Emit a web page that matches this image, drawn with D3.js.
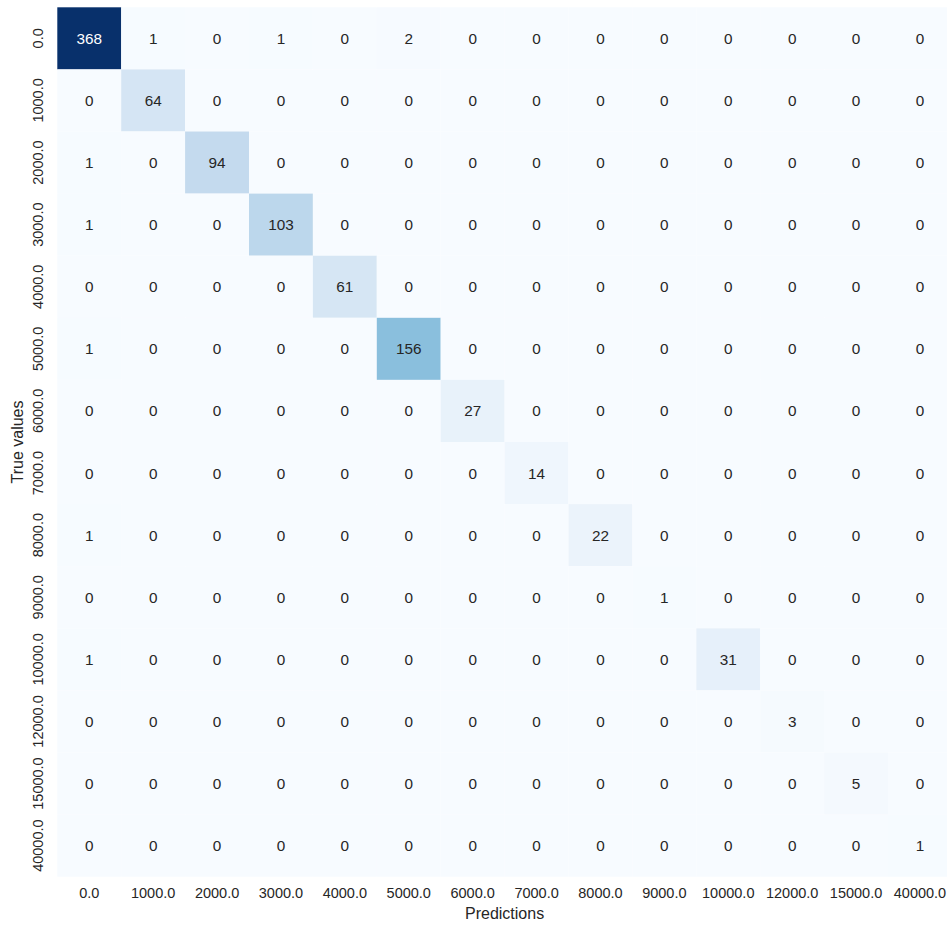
<!DOCTYPE html>
<html>
<head>
<meta charset="utf-8">
<script src="https://cdn.jsdelivr.net/npm/d3@7"></script>
<style>
  html, body { margin: 0; padding: 0; background: #ffffff; }
  svg { display: block; }
  text { font-family: "Liberation Sans", Arial, "DejaVu Sans", sans-serif; fill: #262626; }
</style>
</head>
<body>
<svg id="chart" width="947" height="925"></svg>
<script>
// Class labels shared by both axes
const trueLabels = ["0.0","1000.0","2000.0","3000.0","4000.0","5000.0","6000.0","7000.0","8000.0","9000.0","10000.0","12000.0","15000.0","40000.0"];
const predLabels = ["0.0","1000.0","2000.0","3000.0","4000.0","5000.0","6000.0","7000.0","8000.0","9000.0","10000.0","12000.0","15000.0","40000.0"];

// Confusion matrix counts, one row per true class
const row0  = [368, 1, 0, 1, 0, 2, 0, 0, 0, 0, 0, 0, 0, 0];
const row1  = [0, 64, 0, 0, 0, 0, 0, 0, 0, 0, 0, 0, 0, 0];
const row2  = [1, 0, 94, 0, 0, 0, 0, 0, 0, 0, 0, 0, 0, 0];
const row3  = [1, 0, 0, 103, 0, 0, 0, 0, 0, 0, 0, 0, 0, 0];
const row4  = [0, 0, 0, 0, 61, 0, 0, 0, 0, 0, 0, 0, 0, 0];
const row5  = [1, 0, 0, 0, 0, 156, 0, 0, 0, 0, 0, 0, 0, 0];
const row6  = [0, 0, 0, 0, 0, 0, 27, 0, 0, 0, 0, 0, 0, 0];
const row7  = [0, 0, 0, 0, 0, 0, 0, 14, 0, 0, 0, 0, 0, 0];
const row8  = [1, 0, 0, 0, 0, 0, 0, 0, 22, 0, 0, 0, 0, 0];
const row9  = [0, 0, 0, 0, 0, 0, 0, 0, 0, 1, 0, 0, 0, 0];
const row10 = [1, 0, 0, 0, 0, 0, 0, 0, 0, 0, 31, 0, 0, 0];
const row11 = [0, 0, 0, 0, 0, 0, 0, 0, 0, 0, 0, 3, 0, 0];
const row12 = [0, 0, 0, 0, 0, 0, 0, 0, 0, 0, 0, 0, 5, 0];
const row13 = [0, 0, 0, 0, 0, 0, 0, 0, 0, 0, 0, 0, 0, 1];
const matrix = [row0,row1,row2,row3,row4,row5,row6,row7,row8,row9,row10,row11,row12,row13];

// Layout
const plotLeft = 57.3, plotTop = 7.3, cellW = 63.9, cellH = 62.1;
const svg = d3.select("#chart");

const x = d3.scaleBand().domain(predLabels).range([plotLeft, plotLeft + cellW * predLabels.length]).padding(0);
const y = d3.scaleBand().domain(trueLabels).range([plotTop, plotTop + cellH * trueLabels.length]).padding(0);

// Blues colormap: linear segments between the ColorBrewer anchors
const bluesStops = ["#f7fbff","#deebf7","#c6dbef","#9ecae1","#6baed6","#4292c6","#2171b5","#08519c","#08306b"];
const vmax = d3.max(matrix, r => d3.max(r));
const color = d3.scaleLinear()
  .domain(bluesStops.map((_, i) => vmax * i / (bluesStops.length - 1)))
  .range(bluesStops)
  .interpolate(d3.interpolateRgb);

const cells = [];
matrix.forEach((r, i) => r.forEach((v, j) => cells.push({ t: trueLabels[i], p: predLabels[j], v })));

svg.append("g").selectAll("rect")
  .data(cells)
  .join("rect")
  .attr("x", d => x(d.p))
  .attr("y", d => y(d.t))
  .attr("width", x.bandwidth())
  .attr("height", y.bandwidth())
  .attr("fill", d => color(d.v));

// Annotations: light text on dark cells
function luminance(c) {
  const rgb = d3.rgb(c);
  const f = u => { u /= 255; return u <= 0.03928 ? u / 12.92 : Math.pow((u + 0.055) / 1.055, 2.4); };
  return 0.2126 * f(rgb.r) + 0.7152 * f(rgb.g) + 0.0722 * f(rgb.b);
}
svg.append("g").selectAll("text")
  .data(cells)
  .join("text")
  .attr("x", d => x(d.p) + x.bandwidth() / 2)
  .attr("y", d => y(d.t) + y.bandwidth() / 2)
  .attr("dy", "0.36em")
  .attr("text-anchor", "middle")
  .style("font-size", "15.3px")
  .style("fill", d => luminance(color(d.v)) > 0.408 ? "#262626" : "#ffffff")
  .text(d => d.v);

// Axes
const xAxis = svg.append("g")
  .attr("transform", `translate(0,${plotTop + cellH * trueLabels.length})`)
  .call(d3.axisBottom(x).tickSize(0).tickPadding(11));
xAxis.select(".domain").remove();
xAxis.selectAll("text").style("font-size", "14.5px").style("fill", "#262626").attr("font-family", null);

const yAxis = svg.append("g")
  .attr("transform", `translate(${plotLeft},0)`)
  .call(d3.axisLeft(y).tickSize(0));
yAxis.select(".domain").remove();
yAxis.selectAll("text")
  .attr("transform", "rotate(-90)")
  .attr("x", 0)
  .attr("y", -14)
  .attr("dy", 0)
  .attr("text-anchor", "middle")
  .attr("font-family", null)
  .style("font-size", "14.5px")
  .style("fill", "#262626");

// Axis titles
svg.append("text")
  .attr("x", plotLeft + cellW * predLabels.length / 2)
  .attr("y", 919)
  .attr("text-anchor", "middle")
  .style("font-size", "16px")
  .text("Predictions");

svg.append("text")
  .attr("transform", `translate(23,${plotTop + cellH * trueLabels.length / 2}) rotate(-90)`)
  .attr("text-anchor", "middle")
  .style("font-size", "16px")
  .text("True values");
</script>
</body>
</html>
